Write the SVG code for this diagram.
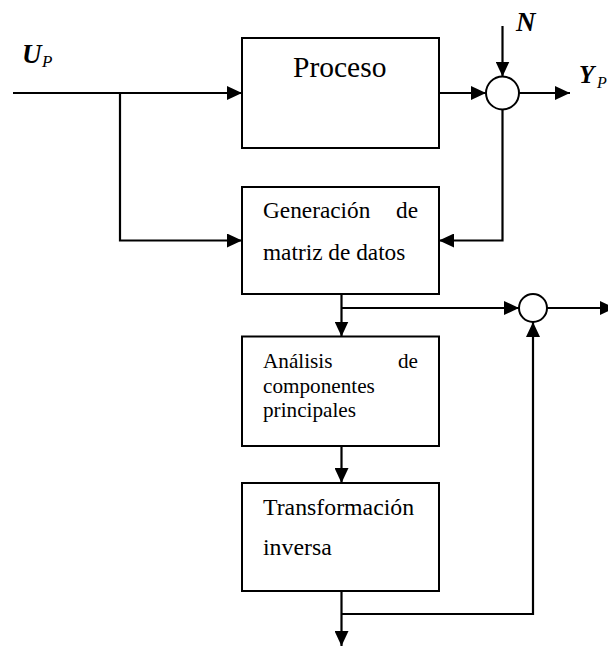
<svg xmlns="http://www.w3.org/2000/svg" width="608" height="646" viewBox="0 0 608 646">
<style>
.box{fill:#fff;stroke:#000;stroke-width:2}
.ln{fill:none;stroke:#000;stroke-width:2.2}
.arr{marker-end:url(#ah)}
.t{font-family:"Liberation Serif","Times New Roman",serif;fill:#000}
.bi{font-family:"Liberation Serif","Times New Roman",serif;font-weight:bold;font-style:italic;fill:#000}
.it{font-family:"Liberation Serif","Times New Roman",serif;font-style:italic;fill:#000}
.sum{fill:#fff;stroke:#000;stroke-width:2}
</style>
<defs>
<marker id="ah" markerUnits="userSpaceOnUse" markerWidth="16" markerHeight="14" refX="15" refY="7" orient="auto">
<path d="M0,0 L15,7 L0,14 z" fill="#000"/>
</marker>
</defs>
<g id="connectors">
<line class="ln arr" x1="13" y1="93" x2="242" y2="93"/>
<polyline class="ln arr" points="120,93 120,240.5 242,240.5"/>
<line class="ln arr" x1="439" y1="93" x2="486" y2="93"/>
<line class="ln arr" x1="502.5" y1="26" x2="502.5" y2="76.5"/>
<line class="ln arr" x1="519" y1="93" x2="570" y2="93"/>
<polyline class="ln arr" points="502.5,109.5 502.5,240.5 439,240.5"/>
<line class="ln arr" x1="341.5" y1="294" x2="341.5" y2="336.5"/>
<line class="ln arr" x1="341.5" y1="308" x2="519" y2="308"/>
<line class="ln arr" x1="547" y1="308" x2="615" y2="308"/>
<line class="ln arr" x1="341.5" y1="446" x2="341.5" y2="483"/>
<line class="ln arr" x1="341.5" y1="591" x2="341.5" y2="646"/>
<polyline class="ln arr" points="341.5,614 533,614 533,322"/>
</g>
<g id="proceso">
<rect class="box" x="242" y="38" width="197" height="110"/>
<text class="t" x="293" y="77" font-size="29.5">Proceso</text>
</g>
<g id="sum1">
<circle class="sum" cx="502.5" cy="93" r="16.5"/>
</g>
<g id="sum2">
<circle class="sum" cx="533" cy="308" r="14"/>
</g>
<g id="generacion">
<rect class="box" x="242" y="187" width="197" height="107"/>
<text class="t" x="263" y="218" font-size="23.3">Generación</text>
<text class="t" x="418" y="218" font-size="23.3" text-anchor="end">de</text>
<text class="t" x="263" y="260" font-size="23.3">matriz de datos</text>
</g>
<g id="analisis">
<rect class="box" x="242" y="336.5" width="197" height="109.5"/>
<text class="t" x="263" y="368" font-size="21.2">Análisis</text>
<text class="t" x="418" y="368" font-size="21.2" text-anchor="end">de</text>
<text class="t" x="263" y="392.5" font-size="21.2">componentes</text>
<text class="t" x="263" y="417" font-size="21.2">principales</text>
</g>
<g id="transformacion">
<rect class="box" x="242" y="483" width="197" height="108"/>
<text class="t" x="263" y="515" font-size="23.8">Transformación</text>
<text class="t" x="263" y="555" font-size="23.8">inversa</text>
</g>
<g id="labels">
<text x="22" y="63"><tspan class="bi" font-size="27">U</tspan></text>
<text class="it" x="42" y="67" font-size="17">P</text>
<text class="bi" x="516" y="30.5" font-size="27">N</text>
<text class="bi" x="579" y="83" font-size="25">Y</text>
<text class="it" x="597" y="88" font-size="16">P</text>
</g>
</svg>
